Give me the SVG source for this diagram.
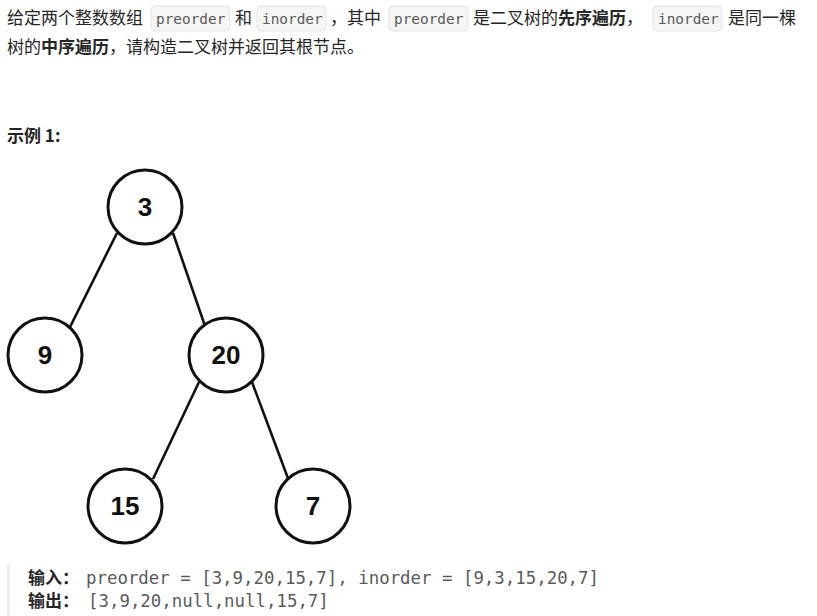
<svg xmlns="http://www.w3.org/2000/svg" width="817" height="616" viewBox="0 0 817 616">
<style>
.t{font-family:"Noto Sans CJK SC","Liberation Sans",sans-serif;font-size:17px;fill:#262626}
.b{font-weight:bold}
.code{font-family:"DejaVu Sans Mono","Liberation Mono",monospace;font-size:14.4px;fill:#595959}
.cbox{fill:#f5f5f5;stroke:#e4e4e4;stroke-width:1}
.mono{font-family:"DejaVu Sans Mono","Liberation Mono",monospace;font-size:17.4px;fill:#5a5a5a}
.node circle{fill:#fff;stroke:#111;stroke-width:3}
.node text{font-family:"Liberation Sans",Arial,sans-serif;font-weight:bold;font-size:26px;fill:#111;text-anchor:middle}
.edge{stroke:#111;stroke-width:2.6;fill:none}
</style>
<rect width="817" height="616" fill="#fff"/>
<g id="text">
<text class="t" x="7" y="24">给定两个整数数组</text>
<rect class="cbox" x="151" y="6" width="79" height="25" rx="4"/>
<text class="code" x="156" y="24">preorder</text>
<text class="t" x="235" y="24">和</text>
<rect class="cbox" x="257" y="6" width="69" height="25" rx="4"/>
<text class="code" x="262" y="24">inorder</text>
<text class="t" x="330" y="24">，其中</text>
<rect class="cbox" x="389" y="6" width="79" height="25" rx="4"/>
<text class="code" x="394" y="24">preorder</text>
<text class="t" x="473" y="24">是二叉树的<tspan class="b">先序遍历</tspan>，</text>
<rect class="cbox" x="653" y="6" width="69" height="25" rx="4"/>
<text class="code" x="658" y="24">inorder</text>
<text class="t" x="728" y="24">是同一棵</text>
<text class="t" x="7" y="53">树的<tspan class="b">中序遍历</tspan>，请构造二叉树并返回其根节点。</text>
<text class="t b" x="7" y="142">示例 1:</text>
<rect x="7" y="564" width="3" height="52" fill="#eeeeee"/>
<text class="t b" x="28" y="584">输入：</text>
<text class="mono" x="86" y="584">preorder = [3,9,20,15,7], inorder = [9,3,15,20,7]</text>
<text class="t b" x="28" y="607">输出：</text>
<text class="mono" x="88" y="607">[3,9,20,null,null,15,7]</text>
</g>
<g id="connectors">
<line class="edge" x1="117" y1="233" x2="70" y2="327"/>
<line class="edge" x1="173" y1="233" x2="205" y2="326"/>
<line class="edge" x1="199" y1="382" x2="153" y2="479"/>
<line class="edge" x1="252" y1="382" x2="289" y2="481"/>
</g>
<g id="n3" class="node"><circle cx="145" cy="207" r="37"/><text x="145" y="216">3</text></g>
<g id="n9" class="node"><circle cx="45" cy="355" r="37"/><text x="45" y="364">9</text></g>
<g id="n20" class="node"><circle cx="226" cy="355" r="37"/><text x="226" y="364">20</text></g>
<g id="n15" class="node"><circle cx="125" cy="506" r="37"/><text x="125" y="515">15</text></g>
<g id="n7" class="node"><circle cx="313" cy="506" r="37"/><text x="313" y="515">7</text></g>
</svg>
